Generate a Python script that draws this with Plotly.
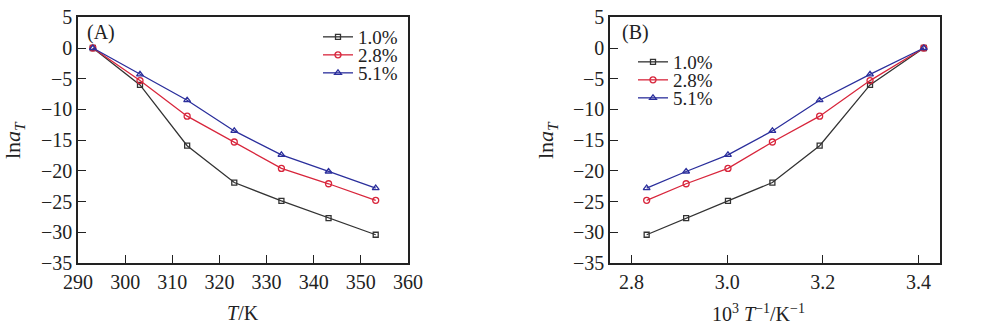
import plotly.graph_objects as go

# Temperatures (K) and shift factors ln(aT) for three concentrations
T_K = [293.15, 303.15, 313.15, 323.15, 333.15, 343.15, 353.15]
inv_T = [1000.0 / t for t in T_K]
series_names = ["1.0%", "2.8%", "5.1%"]
ln_aT_10 = [0.0, -6.0, -15.9, -21.9, -24.9, -27.7, -30.4]
ln_aT_28 = [0.0, -5.3, -11.1, -15.3, -19.6, -22.1, -24.8]
ln_aT_51 = [0.0, -4.3, -8.5, -13.5, -17.4, -20.1, -22.8]
series_values = [ln_aT_10, ln_aT_28, ln_aT_51]

colors = ["#333333", "#d8263c", "#2b2f9c"]
symbols = ["square-open", "circle-open", "triangle-up-open"]
sizes = [5, 6, 6]

FONT = "Liberation Serif"
TICK_SIZE = 20
LEG_SIZE = 19
W, H = 1000, 333

# legend rows: (left px, centre y px) for each panel
leg_left = [318, 633]
leg_top = [37, 62]
ROW = 18

fig = go.Figure()
legend_layouts = {}
for i, (name, vals, c, s, sz) in enumerate(zip(series_names, series_values, colors, symbols, sizes)):
    for p, (xs, xa, ya) in enumerate([(T_K, "x", "y"), (inv_T, "x2", "y2")]):
        lname = "legend" if (p * 3 + i) == 0 else f"legend{p * 3 + i + 1}"
        fig.add_trace(go.Scatter(
            x=xs, y=vals, name=name, mode="lines+markers",
            line=dict(color=c, width=1.3),
            marker=dict(symbol=s, size=sz, color=c, line=dict(color=c, width=1.3)),
            xaxis=xa, yaxis=ya, legend=lname,
        ))
        legend_layouts[lname] = dict(
            x=leg_left[p] / W, y=1 - (leg_top[p] + i * ROW) / H,
            xanchor="left", yanchor="middle",
            bgcolor="rgba(0,0,0,0)", borderwidth=0,
            font=dict(family=FONT, size=LEG_SIZE, color="#222222"),
            tracegroupgap=0, itemwidth=30,
        )

axis_common = dict(
    showline=True, linecolor="#222222", linewidth=1.5, mirror=True,
    ticks="inside", ticklen=8, tickwidth=1.2, tickcolor="#222222",
    showgrid=False, zeroline=False, automargin=False,
    tickfont=dict(family=FONT, size=TICK_SIZE, color="#222222"),
)

y_dom = [70 / H, 315.7 / H]

fig.update_layout(
    width=W, height=H,
    margin=dict(l=0, r=0, t=0, b=0),
    paper_bgcolor="white", plot_bgcolor="white",
    font=dict(family=FONT, color="#222222"),
    showlegend=True,
    xaxis=dict(domain=[0.078, 0.408], range=[290, 360], dtick=10, anchor="y",
               **axis_common),
    yaxis=dict(domain=y_dom, range=[-35, 5], dtick=5, anchor="x", **axis_common),
    xaxis2=dict(domain=[0.610, 0.940], range=[2.755, 3.445], dtick=0.2,
                tickformat=".1f", anchor="y2", **axis_common),
    yaxis2=dict(domain=y_dom, range=[-35, 5], dtick=5, anchor="x2", **axis_common),
    **legend_layouts,
)

# Panel labels and axis titles
ann = [
    dict(text="(A)", x=85, y=32, xanchor="left"),
    dict(text="(B)", x=620, y=32, xanchor="left"),
    dict(text="<i>T</i>/K", x=243, y=313, xanchor="center"),
    dict(text="10<sup>3</sup> <i>T</i><sup>−1</sup>/K<sup>−1</sup>", x=758, y=313,
         xanchor="center"),
]
for a in ann:
    fig.add_annotation(text=a["text"], xref="paper", yref="paper",
                       x=a["x"] / W, y=1 - a["y"] / H,
                       xanchor=a["xanchor"], yanchor="middle", showarrow=False,
                       font=dict(family=FONT, size=20, color="#222222"))

for xc in (14, 547):
    fig.add_annotation(text="ln<i>a</i><sub><i>T</i></sub>", xref="paper", yref="paper",
                       x=xc / W, y=1 - 140 / H, textangle=-90,
                       xanchor="center", yanchor="middle", showarrow=False,
                       font=dict(family=FONT, size=22, color="#222222"))

fig.write_html("out.html")
